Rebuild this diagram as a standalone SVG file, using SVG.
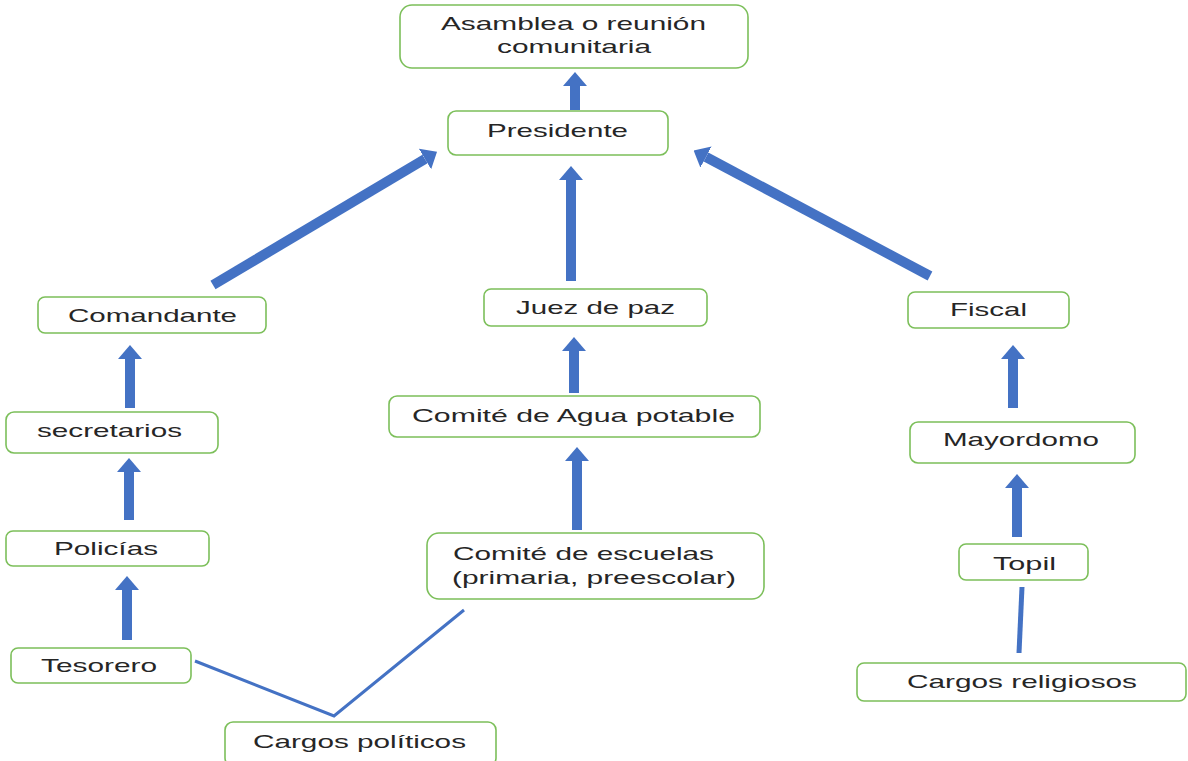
<svg xmlns="http://www.w3.org/2000/svg" width="1188" height="761" viewBox="0 0 1188 761">
<defs>
<style>
.node rect{fill:#fff;stroke:#7CBF5A;stroke-width:1.6}
.node text{font-family:"Liberation Sans",Arial,sans-serif;font-size:19px;fill:#262626}
.arr{stroke:#4472C4;stroke-width:10;fill:none;marker-end:url(#head)}
.ln{stroke:#4472C4;fill:none}
</style>
<marker id="head" markerUnits="userSpaceOnUse" viewBox="0 -12 14 24" refX="0" refY="0" markerWidth="14" markerHeight="24" orient="auto">
<path d="M0,-12 L14,0 L0,12 z" fill="#4472C4"/>
</marker>
</defs>
<rect width="1188" height="761" fill="#fff"/>
<g id="connectors">
<line class="arr" x1="575" y1="110" x2="575" y2="86"/>
<line class="arr" x1="571" y1="281" x2="571" y2="180"/>
<line class="arr" x1="213" y1="285" x2="425" y2="159" stroke-width="11"/>
<line class="arr" x1="930" y1="276" x2="706" y2="157" stroke-width="11"/>
<line class="arr" x1="130" y1="408" x2="130" y2="359"/>
<line class="arr" x1="129" y1="520" x2="129" y2="472"/>
<line class="arr" x1="127" y1="640" x2="127" y2="590"/>
<line class="arr" x1="574" y1="393" x2="574" y2="351"/>
<line class="arr" x1="577" y1="530" x2="577" y2="461"/>
<line class="arr" x1="1013" y1="408" x2="1013" y2="359"/>
<line class="arr" x1="1017" y1="537" x2="1017" y2="488"/>
<line class="ln" x1="1022" y1="587" x2="1019" y2="653" stroke-width="5"/>
<polyline class="ln" points="195,661 334,716 464,610" stroke-width="3"/>
</g>
<g id="asamblea" class="node"><rect x="400" y="5" width="348" height="63" rx="12"/><text x="441" y="30" textLength="265" lengthAdjust="spacingAndGlyphs">Asamblea o reunión</text><text x="497" y="53" textLength="154" lengthAdjust="spacingAndGlyphs">comunitaria</text></g>
<g id="presidente" class="node"><rect x="448" y="111" width="220" height="44" rx="8"/><text x="487" y="137" textLength="141" lengthAdjust="spacingAndGlyphs">Presidente</text></g>
<g id="comandante" class="node"><rect x="38" y="297" width="228" height="36" rx="7"/><text x="68" y="322" textLength="169" lengthAdjust="spacingAndGlyphs">Comandante</text></g>
<g id="juez" class="node"><rect x="484" y="289" width="223" height="37" rx="7"/><text x="516" y="314" textLength="159" lengthAdjust="spacingAndGlyphs">Juez de paz</text></g>
<g id="fiscal" class="node"><rect x="908" y="292" width="161" height="36" rx="7"/><text x="950" y="316" textLength="77" lengthAdjust="spacingAndGlyphs">Fiscal</text></g>
<g id="secretarios" class="node"><rect x="6" y="412" width="212" height="41" rx="8"/><text x="37" y="437" textLength="145" lengthAdjust="spacingAndGlyphs">secretarios</text></g>
<g id="agua" class="node"><rect x="389" y="396" width="371" height="41" rx="8"/><text x="412" y="422" textLength="323" lengthAdjust="spacingAndGlyphs">Comité de Agua potable</text></g>
<g id="mayordomo" class="node"><rect x="910" y="422" width="225" height="41" rx="8"/><text x="943" y="446" textLength="156" lengthAdjust="spacingAndGlyphs">Mayordomo</text></g>
<g id="policias" class="node"><rect x="6" y="531" width="203" height="35" rx="7"/><text x="54" y="555" textLength="104" lengthAdjust="spacingAndGlyphs">Policías</text></g>
<g id="escuelas" class="node"><rect x="427" y="533" width="337" height="66" rx="12"/><text x="453" y="560" textLength="261" lengthAdjust="spacingAndGlyphs">Comité de escuelas</text><text x="452" y="584" textLength="284" lengthAdjust="spacingAndGlyphs">(primaria, preescolar)</text></g>
<g id="topil" class="node"><rect x="959" y="544" width="129" height="36" rx="7"/><text x="993" y="570" textLength="63" lengthAdjust="spacingAndGlyphs">Topil</text></g>
<g id="tesorero" class="node"><rect x="11" y="648" width="180" height="35" rx="7"/><text x="41" y="672" textLength="116" lengthAdjust="spacingAndGlyphs">Tesorero</text></g>
<g id="religiosos" class="node"><rect x="857" y="663" width="329" height="38" rx="7"/><text x="907" y="688" textLength="230" lengthAdjust="spacingAndGlyphs">Cargos religiosos</text></g>
<g id="politicos" class="node"><rect x="225" y="722" width="271" height="44" rx="8"/><text x="253" y="748" textLength="213" lengthAdjust="spacingAndGlyphs">Cargos políticos</text></g>
</svg>
